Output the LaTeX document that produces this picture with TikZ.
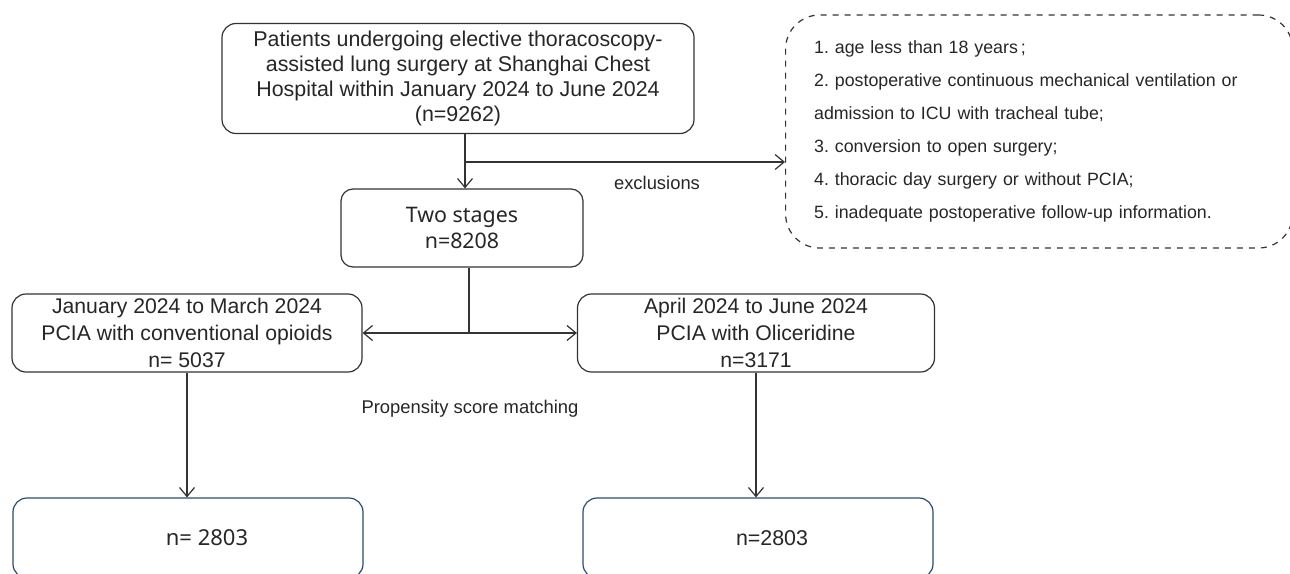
\documentclass[tikz,border=0pt]{standalone}
\usepackage{fontspec}
\setmainfont{Liberation Sans}
\newfontfamily\notosans{Noto Sans}
\usetikzlibrary{arrows.meta}
\definecolor{linegray}{HTML}{333333}
\definecolor{boxblue}{HTML}{2B4B6F}
\frenchspacing
\tikzset{>={Straight Barb[length=4.5pt,width=7.5pt]}}
\tikzset{
  flowbox/.style={draw=linegray, line width=0.6pt, rounded corners=7pt, align=center, inner sep=0pt, text=black!85},
  resultbox/.style={flowbox, draw=boxblue},
  exclbox/.style={draw=linegray, line width=0.6pt, dashed, rounded corners=17pt, align=left, inner xsep=14pt, inner ysep=0pt, text=black!85},
  flowline/.style={draw=linegray, line width=0.6pt}
}

\begin{document}
\begin{tikzpicture}[x=0.5pt, y=-0.5pt]
    \clip (0,0) rectangle (1290,573);
    \useasboundingbox (0,0) rectangle (1290,573);
    \node[flowbox, minimum width=236pt, minimum height=55pt, font=\fontsize{10.7}{12.5}\selectfont] (patients) at (458,78.5)
        {Patients undergoing elective thoracoscopy-\\assisted lung surgery at Shanghai Chest\\Hospital within January 2024 to June 2024\\(n=9262)};
    \node[flowbox, rounded corners=6pt, minimum width=121pt, minimum height=39pt, font=\notosans\fontsize{10.7}{13}\selectfont] (stages) at (462,228)
        {Two stages\\n=8208};
    \node[flowbox, minimum width=175pt, minimum height=39pt, font=\fontsize{10.6}{13.5}\selectfont] (conv) at (187,333)
        {January 2024 to March 2024\\PCIA with conventional opioids\\n= 5037};
    \node[flowbox, minimum width=178.5pt, minimum height=39pt, font=\fontsize{10.6}{13.5}\selectfont] (olic) at (756,333)
        {April 2024 to June 2024\\PCIA with Oliceridine\\n=3171};
    \node[resultbox, minimum width=175pt, minimum height=40pt, font=\notosans\fontsize{11}{12}\selectfont] (convpsm) at (188,538)
        {\hspace*{19pt}n= 2803};
    \node[resultbox, minimum width=175pt, minimum height=40pt, font=\fontsize{10.7}{12}\selectfont] (olicpsm) at (758,538)
        {\hspace*{14pt}n=2803};
    \node[exclbox, anchor=west, minimum width=253.5pt, minimum height=116.5pt, text width=225pt, font=\fontsize{8.9}{16.5}\selectfont] (excl) at (785,131.5)
        {1. age less than 18 years\,;\\2. postoperative continuous mechanical ventilation or\\admission to ICU with tracheal tube;\\3. conversion to open surgery;\\4. thoracic day surgery or without PCIA;\\5. inadequate postoperative follow-up information.};
    \node[font=\fontsize{9.2}{10}\selectfont, text=black!85] (exlabel) at (657,183) {exclusions};
    \node[font=\fontsize{9.2}{10}\selectfont, text=black!85] (psmlabel) at (470,409) {Propensity score matching};
    \coordinate (split) at (465,162);
    \coordinate (fork) at (469,333);
    \draw[flowline, ->] (patients.south -| split) -- (stages.north -| split);
    \draw[flowline, ->] (split) -- (excl.west |- split);
    \draw[flowline] (stages.south -| fork) -- (fork);
    \draw[flowline, ->] (fork) -- (conv.east);
    \draw[flowline, ->] (fork) -- (olic.west);
    \draw[flowline, ->] (conv.south) -- (conv.south |- convpsm.north);
    \draw[flowline, ->] (olic.south) -- (olic.south |- olicpsm.north);
\end{tikzpicture}
\end{document}
